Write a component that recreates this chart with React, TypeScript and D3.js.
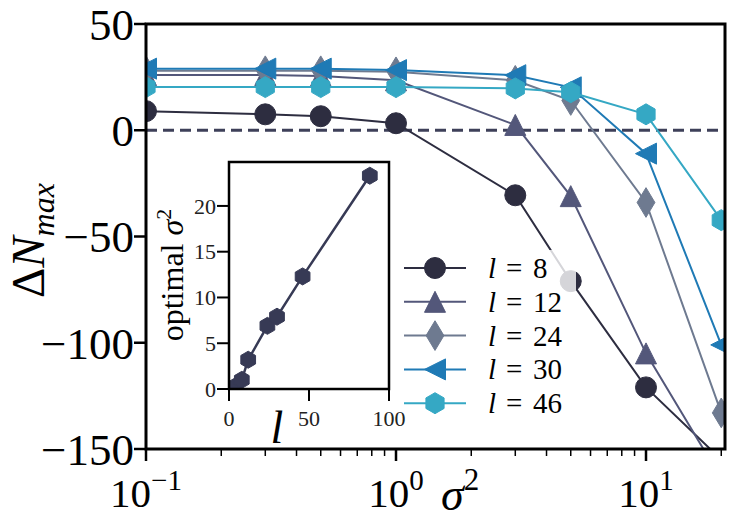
import React, { useEffect, useRef } from 'react';
import * as d3 from 'd3';

// sigma^2 values shared by all series
const sigma2 = [0.1, 0.3, 0.5, 1, 3, 5, 10, 20];

const l8 = [9, 7.5, 6.6, 3.3, -30.6, -71, -121, -155];
const l12 = [26, 26, 25.5, 23.5, 2.5, -31, -105, -164];
const l24 = [28, 28, 28, 27.5, 23.5, 14, -34, -133];
const l30 = [29, 29, 29, 28.3, 25.9, 20.2, -11, -101];
const l46 = [20.3, 20.3, 20.3, 20.3, 19.7, 17.9, 7.5, -42.3];

const seriesNames = ['8', '12', '24', '30', '46'];

// inset: optimal sigma^2 vs l
const insetL = [4, 8, 12, 24, 30, 46, 88];
const insetOpt = [0.3, 1.0, 3.2, 6.9, 7.9, 12.3, 23.3];

const yTicks = [-150, -100, -50, 0, 50];
const xTickExp = [-1, 0, 1];
const insetYTicks = [0, 5, 10, 15, 20];
const insetXTicks = [0, 50, 100];

const FONT = '"Liberation Serif", "DejaVu Serif", serif';

type Shape = 'circle' | 'triUp' | 'thinDiamond' | 'triLeft' | 'hexagon';

// matplotlib-like marker outlines, size = markersize in px
const shapeType = (shape: Shape) => ({
  draw(ctx: any, ms: number) {
    const r = ms / 2;
    if (shape === 'circle') {
      ctx.moveTo(r, 0);
      ctx.arc(0, 0, r, 0, 2 * Math.PI);
    } else if (shape === 'triUp') {
      ctx.moveTo(0, -r); ctx.lineTo(r, r); ctx.lineTo(-r, r); ctx.closePath();
    } else if (shape === 'triLeft') {
      ctx.moveTo(-r, 0); ctx.lineTo(r, -r); ctx.lineTo(r, r); ctx.closePath();
    } else if (shape === 'thinDiamond') {
      const h = ms * 0.7071, w = 0.6 * h;
      ctx.moveTo(0, -h); ctx.lineTo(w, 0); ctx.lineTo(0, h); ctx.lineTo(-w, 0); ctx.closePath();
    } else {
      for (let k = 0; k < 6; k++) {
        const a = -Math.PI / 2 + (k * Math.PI) / 3;
        if (k === 0) ctx.moveTo(r * Math.cos(a), r * Math.sin(a));
        else ctx.lineTo(r * Math.cos(a), r * Math.sin(a));
      }
      ctx.closePath();
    }
  },
});

const series = [
  { vals: l8, color: '#2d2d40', shape: 'circle' as Shape },
  { vals: l12, color: '#53577a', shape: 'triUp' as Shape },
  { vals: l24, color: '#6e7a90', shape: 'thinDiamond' as Shape },
  { vals: l30, color: '#1f7ab5', shape: 'triLeft' as Shape },
  { vals: l46, color: '#35a8c4', shape: 'hexagon' as Shape },
];

export default function App() {
  const svgRef = useRef<SVGSVGElement>(null);

  useEffect(() => {
    if (!svgRef.current) return;
    const svg = d3.select(svgRef.current);
    svg.selectAll('*').remove();

    const left = 146, right = 725, top = 24, bottom = 449;
    const x = d3.scaleLog().domain([0.1, 20.7]).range([left, right]);
    const y = d3.scaleLinear().domain([-150, 50]).range([bottom, top]);
    const ms = 21;

    svg.append('defs').append('clipPath').attr('id', 'mainclip')
      .append('rect').attr('x', left).attr('y', top)
      .attr('width', right - left).attr('height', bottom - top);

    const plot = svg.append('g').attr('clip-path', 'url(#mainclip)');

    // zero reference
    plot.append('line')
      .attr('x1', x(0.1)).attr('x2', x(20))
      .attr('y1', y(0)).attr('y2', y(0))
      .attr('stroke', '#3e4059').attr('stroke-width', 3)
      .attr('stroke-dasharray', '11,6');

    const line = d3.line<number>().x((_, i) => x(sigma2[i])).y(d => y(d));

    series.forEach(s => {
      plot.append('path')
        .attr('d', line(s.vals) as string)
        .attr('fill', 'none').attr('stroke', s.color).attr('stroke-width', 2);
      const sym = d3.symbol().type(shapeType(s.shape) as any).size(ms);
      plot.selectAll(null).data(s.vals).enter().append('path')
        .attr('d', sym as any)
        .attr('transform', (d, i) => `translate(${x(sigma2[i])},${y(d)})`)
        .attr('fill', s.color).attr('stroke', s.color).attr('stroke-width', 1);
    });

    // legend
    const lg = svg.append('g');
    lg.append('rect')
      .attr('x', 396).attr('y', 250).attr('width', 180).attr('height', 172)
      .attr('rx', 6).attr('fill', 'white').attr('fill-opacity', 0.8);
    series.forEach((s, i) => {
      const yy = 268 + i * 33.8;
      lg.append('line').attr('x1', 404).attr('x2', 466).attr('y1', yy).attr('y2', yy)
        .attr('stroke', s.color).attr('stroke-width', 2);
      lg.append('path')
        .attr('d', d3.symbol().type(shapeType(s.shape) as any).size(ms)() as string)
        .attr('transform', `translate(435,${yy})`)
        .attr('fill', s.color).attr('stroke', s.color).attr('stroke-width', 1);
      const t = lg.append('text').attr('y', yy + 10).attr('font-family', FONT)
        .attr('font-size', 29).attr('fill', 'black');
      t.append('tspan').attr('x', 488).attr('font-style', 'italic').text('l');
      t.append('tspan').attr('x', 506).text('=');
      t.append('tspan').attr('x', 533).text(seriesNames[i]);
    });

    // spines
    svg.append('rect')
      .attr('x', left).attr('y', top).attr('width', right - left).attr('height', bottom - top)
      .attr('fill', 'none').attr('stroke', 'black').attr('stroke-width', 3);

    // y ticks
    yTicks.forEach(v => {
      svg.append('line').attr('x1', left - 12).attr('x2', left)
        .attr('y1', y(v)).attr('y2', y(v)).attr('stroke', 'black').attr('stroke-width', 2.5);
      svg.append('text').attr('x', left - 12).attr('y', y(v)).attr('dy', '0.35em')
        .attr('text-anchor', 'end').attr('font-family', FONT).attr('font-size', 45)
        .text(v < 0 ? '\u2212' + Math.abs(v) : String(v));
    });

    // x ticks (log)
    xTickExp.forEach(e => {
      const v = Math.pow(10, e);
      svg.append('line').attr('x1', x(v)).attr('x2', x(v))
        .attr('y1', bottom).attr('y2', bottom + 12).attr('stroke', 'black').attr('stroke-width', 2.5);
      const t = svg.append('text').attr('x', x(v)).attr('y', 507)
        .attr('text-anchor', 'middle').attr('font-family', FONT).attr('font-size', 41);
      t.append('tspan').text('10');
      t.append('tspan').attr('dy', -17).attr('font-size', 29)
        .text(e < 0 ? '\u2212' + Math.abs(e) : String(e));
    });
    const minor: number[] = [];
    [0.1, 1, 10].forEach(b => { for (let k = 2; k <= 9; k++) minor.push(b * k); });
    minor.filter(v => v <= 20.7).forEach(v => {
      svg.append('line').attr('x1', x(v)).attr('x2', x(v))
        .attr('y1', bottom).attr('y2', bottom + 7).attr('stroke', 'black').attr('stroke-width', 1.5);
    });

    // axis labels
    const xl = svg.append('text').attr('x', 441).attr('y', 510)
      .attr('font-family', FONT).attr('font-size', 46);
    xl.append('tspan').attr('font-style', 'italic').text('\u03c3');
    xl.append('tspan').attr('dy', -20).attr('font-size', 31).text('2');

    const yl = svg.append('text')
      .attr('transform', 'translate(44,298) rotate(-90)')
      .attr('font-family', FONT).attr('font-size', 47);
    yl.append('tspan').text('\u0394');
    yl.append('tspan').attr('font-style', 'italic').text('N');
    yl.append('tspan').attr('dy', 10).attr('font-size', 32).attr('font-style', 'italic').text('max');

    // inset
    const iL = 229, iR = 389, iT = 162, iB = 389;
    const ix = d3.scaleLinear().domain([0, 100]).range([iL, iR]);
    const iy = d3.scaleLinear().domain([0, 24.8]).range([iB, iT]);
    const inset = svg.append('g');
    inset.append('rect').attr('x', iL).attr('y', iT).attr('width', iR - iL).attr('height', iB - iT)
      .attr('fill', 'white');
    svg.select('defs').append('clipPath').attr('id', 'insetclip')
      .append('rect').attr('x', iL).attr('y', iT).attr('width', iR - iL).attr('height', iB - iT);
    const ip = inset.append('g').attr('clip-path', 'url(#insetclip)');
    const iline = d3.line<number>().x((_, i) => ix(insetL[i])).y(d => iy(d));
    ip.append('path').attr('d', iline(insetOpt) as string)
      .attr('fill', 'none').attr('stroke', '#373a55').attr('stroke-width', 2.5);
    const hex = d3.symbol().type(shapeType('hexagon') as any).size(17);
    ip.selectAll(null).data(insetOpt).enter().append('path')
      .attr('d', hex as any)
      .attr('transform', (d, i) => `translate(${ix(insetL[i])},${iy(d)})`)
      .attr('fill', '#373a55').attr('stroke', '#373a55').attr('stroke-width', 1);

    inset.append('rect').attr('x', iL).attr('y', iT).attr('width', iR - iL).attr('height', iB - iT)
      .attr('fill', 'none').attr('stroke', 'black').attr('stroke-width', 2.5);

    insetYTicks.forEach(v => {
      inset.append('line').attr('x1', iL - 12).attr('x2', iL).attr('y1', iy(v)).attr('y2', iy(v))
        .attr('stroke', 'black').attr('stroke-width', 2);
      inset.append('text').attr('x', iL - 13).attr('y', iy(v)).attr('dy', '0.35em')
        .attr('text-anchor', 'end').attr('font-family', FONT).attr('font-size', 22)
        .attr('fill', '#222').text(String(v));
    });
    insetXTicks.forEach(v => {
      inset.append('line').attr('x1', ix(v)).attr('x2', ix(v)).attr('y1', iB).attr('y2', iB + 12)
        .attr('stroke', 'black').attr('stroke-width', 2);
      inset.append('text').attr('x', ix(v)).attr('y', 426)
        .attr('text-anchor', 'middle').attr('font-family', FONT).attr('font-size', 22)
        .attr('fill', '#222').text(String(v));
    });
    inset.append('text').attr('x', 277).attr('y', 443).attr('text-anchor', 'middle')
      .attr('font-family', FONT).attr('font-size', 46).attr('font-style', 'italic').text('l');
    const il = inset.append('text')
      .attr('transform', 'translate(183,275) rotate(-90)')
      .attr('text-anchor', 'middle').attr('font-family', FONT).attr('font-size', 32);
    il.append('tspan').text('optimal ');
    il.append('tspan').attr('font-style', 'italic').text('\u03c3');
    il.append('tspan').attr('dy', -12).attr('font-size', 22).text('2');
  }, []);

  return (
    <svg ref={svgRef} width={747} height={520}
      style={{ position: 'absolute', left: 0, top: 0, background: 'white' }} />
  );
}
